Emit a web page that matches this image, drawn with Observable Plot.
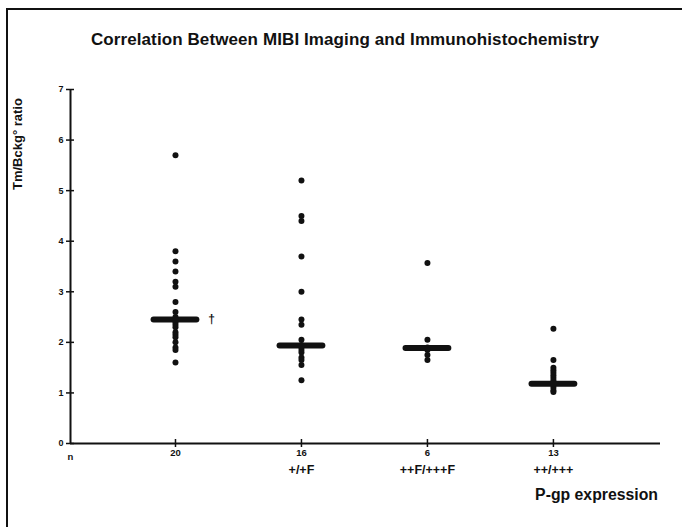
<!DOCTYPE html>
<html>
<head>
<meta charset="utf-8">
<script src="https://cdn.jsdelivr.net/npm/d3@7"></script>
<script src="https://cdn.jsdelivr.net/npm/@observablehq/plot@0.6"></script>
<style>
  html, body { margin: 0; padding: 0; background: #fff; }
  #wrap { position: relative; width: 682px; height: 527px; overflow: hidden; font-family: "Liberation Sans", Arial, sans-serif; color: #111; }
  #frame { position: absolute; left: 6px; top: 8px; width: 700px; height: 540px; border-left: 2px solid #111; border-top: 2px solid #111; }
  #title { position: absolute; left: 0; top: 30px; width: 690px; text-align: center; font-weight: bold; font-size: 17px; letter-spacing: 0.1px; }
  #ylab { position: absolute; left: 10px; top: 190px; transform-origin: 0 0; transform: rotate(-90deg); font-weight: bold; font-size: 13px; white-space: nowrap; }
  #xlab { position: absolute; right: 24px; top: 486px; font-weight: bold; font-size: 15.8px; }
  #chart { position: absolute; left: 0; top: 60px; }
</style>
</head>
<body>
<div id="wrap">
  <div id="frame"></div>
  <div id="title">Correlation Between MIBI Imaging and Immunohistochemistry</div>
  <div id="ylab">Tm/Bckg° ratio</div>
  <div id="xlab">P-gp expression</div>
  <div id="chart"></div>
</div>
<script>
// Groups (x positions 1..4), counts and P-gp categories
const groupIndex = [1, 2, 3, 4];
const groupN = ["20", "16", "6", "13"];
const groupCategory = ["", "+/+F", "++F/+++F", "++/+++"];
// Individual Tm/Bckg ratios
const group1 = [5.7, 3.8, 3.6, 3.4, 3.2, 3.1, 2.8, 2.6, 2.5, 2.45, 2.4, 2.35, 2.3, 2.2, 2.15, 2.1, 2.0, 1.9, 1.85, 1.6];
const group2 = [5.2, 4.5, 4.4, 3.7, 3.0, 2.45, 2.35, 2.05, 1.95, 1.9, 1.85, 1.8, 1.7, 1.65, 1.55, 1.25];
const group3 = [3.57, 2.05, 1.9, 1.85, 1.75, 1.65];
const group4 = [2.27, 1.65, 1.5, 1.45, 1.4, 1.35, 1.3, 1.25, 1.2, 1.15, 1.1, 1.05, 1.02];
// Group summary bars
const groupBar = [2.45, 1.94, 1.89, 1.18];
const yTicks = [0, 1, 2, 3, 4, 5, 6, 7];
const originLabel = "n";

const groups = [group1, group2, group3, group4];
const points = groups.flatMap((g, i) => g.map(v => ({x: groupIndex[i], y: v})));
const bars = groupIndex.map((g, i) => ({x: g, y: groupBar[i]}));
const xOrigin = 1 / 6, xEnd = 4.85;
const ink = "#111";
const halfBar = 0.17;

const chart = Plot.plot({
  width: 682,
  height: 467,
  marginTop: 29,
  marginBottom: 84,
  marginLeft: 70,
  marginRight: 22,
  style: {fontFamily: "Liberation Sans, Arial, sans-serif", background: "transparent", color: ink},
  x: {type: "linear", domain: [xOrigin, xEnd], axis: null},
  y: {type: "linear", domain: [0, 7], axis: null},
  marks: [
    // axis lines
    Plot.ruleX([xOrigin], {y1: 0, y2: 7, stroke: ink, strokeWidth: 2}),
    Plot.ruleY([0], {x1: xOrigin, x2: xEnd, stroke: ink, strokeWidth: 2}),
    // y ticks (crossing the axis)
    Plot.axisY(yTicks, {anchor: "left", label: null, tickSize: 4, tickPadding: 3, fontSize: 9, fontWeight: "bold",
      tickFormat: d => String(d), stroke: ink, strokeWidth: 1.5}),
    Plot.axisY(yTicks, {anchor: "left", label: null, tickSize: -4, tickFormat: () => "", stroke: ink, strokeWidth: 1.5}),
    // x ticks: counts
    Plot.axisX(groupIndex, {anchor: "bottom", label: null, tickSize: 4, tickPadding: 2, fontSize: 9.5, fontWeight: "bold",
      tickFormat: (d, i) => groupN[i], stroke: ink, strokeWidth: 1.5, textAnchor: "middle"}),
    Plot.axisX(groupIndex, {anchor: "bottom", label: null, tickSize: -4, tickFormat: () => "", stroke: ink, strokeWidth: 1.5}),
    // x tick labels: P-gp categories (second line)
    Plot.axisX(groupIndex, {anchor: "bottom", label: null, tickSize: 0, tickPadding: 22, fontSize: 12.5, fontWeight: "bold",
      tickFormat: (d, i) => groupCategory[i], textAnchor: "middle", letterSpacing: "0.3px"}),
    Plot.text([originLabel], {x: xOrigin, y: 0, dy: 13, fontSize: 9.5, fontWeight: "bold", fill: ink}),
    // data
    Plot.dot(points, {x: "x", y: "y", r: 3, fill: ink, stroke: "none"}),
    Plot.ruleY(bars, {y: "y", x1: d => d.x - halfBar, x2: d => d.x + halfBar, stroke: ink, strokeWidth: 6, strokeLinecap: "round"}),
    Plot.text([bars[0]], {x: "x", y: "y", text: () => "†", dx: 36, fontSize: 12, fontWeight: "bold", fill: ink})
  ]
});
document.getElementById("chart").appendChild(chart);
</script>
</body>
</html>
